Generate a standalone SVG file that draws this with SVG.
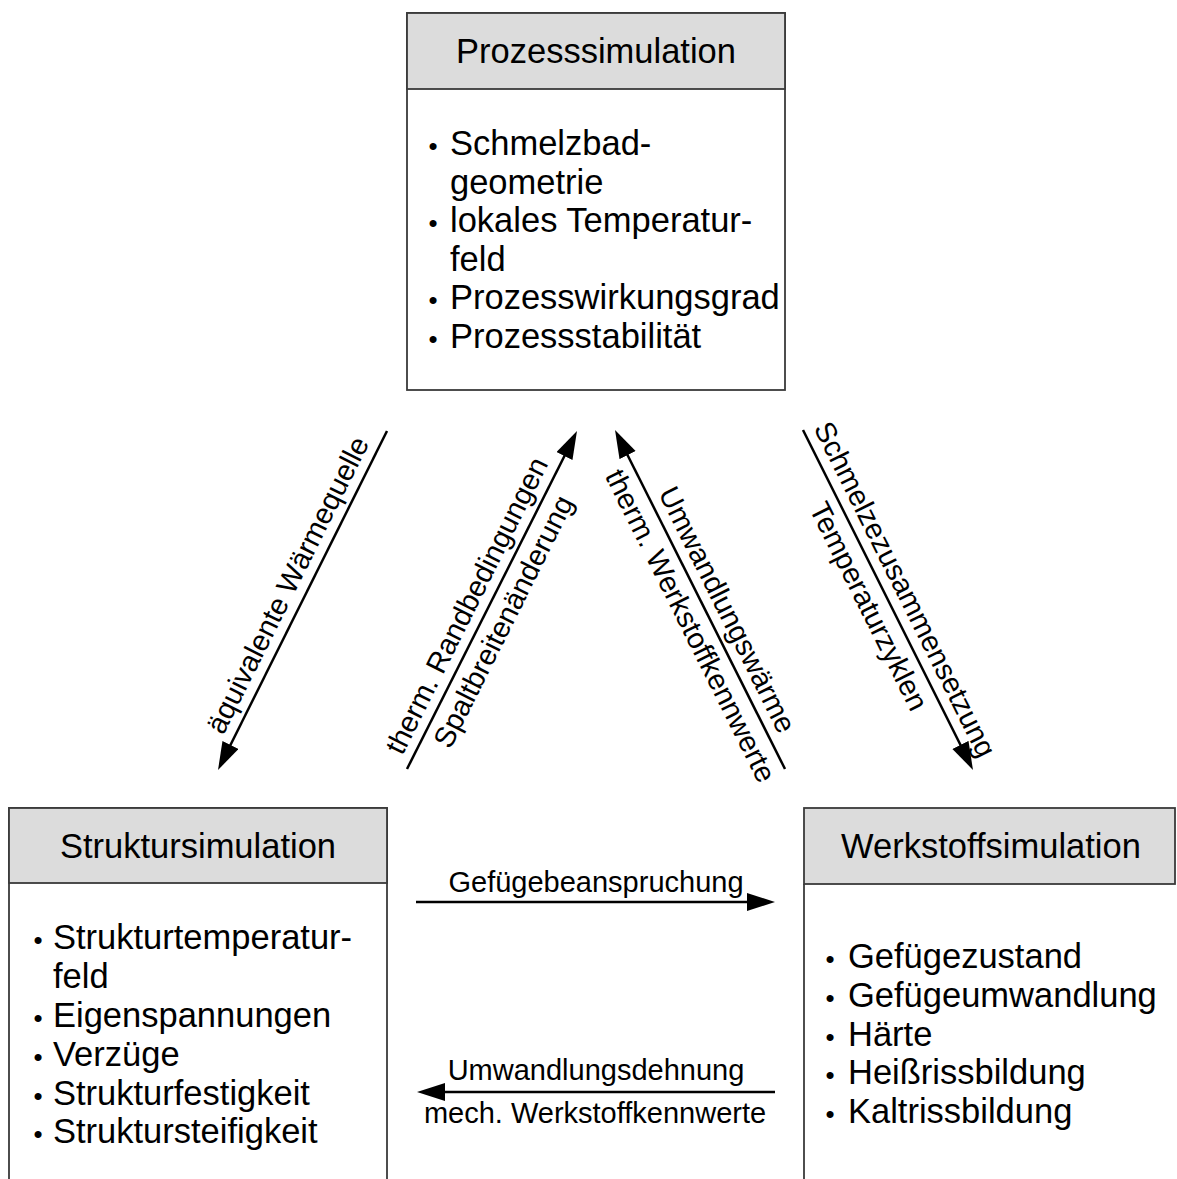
<svg xmlns="http://www.w3.org/2000/svg" width="1177" height="1179" viewBox="0 0 1177 1179">
<style>
.box{fill:#fff;stroke:#3a3a3a;stroke-width:1.8}
.hdr{fill:#dcdcdc;stroke:#3a3a3a;stroke-width:1.8}
text{font-family:"Liberation Sans",Arial,sans-serif;fill:#000}
.title{font-size:34.5px;text-anchor:middle}
.item{font-size:34.5px}
.bul{font-size:26px;text-anchor:middle}
.lbl{font-size:29px;text-anchor:middle}
.conn line{stroke:#000;stroke-width:2.5;marker-end:url(#ah)}
</style>
<defs>
<marker id="ah" markerUnits="userSpaceOnUse" markerWidth="30" markerHeight="20" refX="20" refY="9" orient="auto">
<path d="M0,0 L28,9 L0,18 z" fill="#000"/>
</marker>
</defs>
<rect width="1177" height="1179" fill="#fff"/>

<g id="prozess">
<rect class="box" x="407" y="13" width="378" height="377"/>
<rect class="hdr" x="407" y="13" width="378" height="76"/>
<text class="title" x="596" y="63">Prozesssimulation</text>
<text class="bul" x="433" y="155">•</text><text class="item" x="450" y="155">Schmelzbad-</text>
<text class="item" x="450" y="193.6">geometrie</text>
<text class="bul" x="433" y="232.2">•</text><text class="item" x="450" y="232.2">lokales Temperatur-</text>
<text class="item" x="450" y="270.8">feld</text>
<text class="bul" x="433" y="309.4">•</text><text class="item" x="450" y="309.4">Prozesswirkungsgrad</text>
<text class="bul" x="433" y="348">•</text><text class="item" x="450" y="348">Prozessstabilität</text>
</g>

<g id="struktur">
<rect class="box" x="9" y="808" width="378" height="390"/>
<rect class="hdr" x="9" y="808" width="378" height="75"/>
<text class="title" x="198" y="858">Struktursimulation</text>
<text class="bul" x="38" y="949">•</text><text class="item" x="53" y="949">Strukturtemperatur-</text>
<text class="item" x="53" y="988">feld</text>
<text class="bul" x="38" y="1027">•</text><text class="item" x="53" y="1027">Eigenspannungen</text>
<text class="bul" x="38" y="1066">•</text><text class="item" x="53" y="1066">Verzüge</text>
<text class="bul" x="38" y="1104.5">•</text><text class="item" x="53" y="1104.5">Strukturfestigkeit</text>
<text class="bul" x="38" y="1143">•</text><text class="item" x="53" y="1143">Struktursteifigkeit</text>
</g>

<g id="werkstoff">
<path d="M804,884 V1190" fill="none" stroke="#3a3a3a" stroke-width="1.8"/>
<rect class="hdr" x="804" y="808" width="371" height="76"/>
<text class="title" x="991" y="858">Werkstoffsimulation</text>
<text class="bul" x="830" y="968">•</text><text class="item" x="848" y="968">Gefügezustand</text>
<text class="bul" x="830" y="1007">•</text><text class="item" x="848" y="1007">Gefügeumwandlung</text>
<text class="bul" x="830" y="1045.5">•</text><text class="item" x="848" y="1045.5">Härte</text>
<text class="bul" x="830" y="1084">•</text><text class="item" x="848" y="1084">Heißrissbildung</text>
<text class="bul" x="830" y="1123">•</text><text class="item" x="848" y="1123">Kaltrissbildung</text>
</g>

<g id="connectors">
<g class="conn">
<line x1="387" y1="431" x2="221.6" y2="762.8"/>
<line x1="407" y1="769" x2="573.4" y2="438.2"/>
<line x1="785" y1="769" x2="618.6" y2="437.2"/>
<line x1="803" y1="430" x2="969.4" y2="762.8"/>
<line x1="416" y1="902" x2="767" y2="902"/>
<line x1="775" y1="1092" x2="425" y2="1092"/>
</g>
<text class="lbl" transform="translate(296.5,589.3) rotate(-63.43)">äquivalente Wärmequelle</text>
<text class="lbl" transform="translate(475.5,609.9) rotate(-63.43)">therm. Randbedingungen</text>
<text class="lbl" transform="translate(512.2,625.9) rotate(-63.43)">Spaltbreitenänderung</text>
<text class="lbl" transform="translate(718.5,614.2) rotate(63.43)">Umwandlungswärme</text>
<text class="lbl" transform="translate(681.8,630.2) rotate(63.43)">therm. Werkstoffkennwerte</text>
<text class="lbl" transform="translate(896.2,593.7) rotate(63.43)">Schmelzezusammensetzung</text>
<text class="lbl" transform="translate(860,610.6) rotate(63.43)">Temperaturzyklen</text>
<text class="lbl" x="596" y="892">Gefügebeanspruchung</text>
<text class="lbl" x="596" y="1080">Umwandlungsdehnung</text>
<text class="lbl" x="595" y="1123">mech. Werkstoffkennwerte</text>
</g>
</svg>
